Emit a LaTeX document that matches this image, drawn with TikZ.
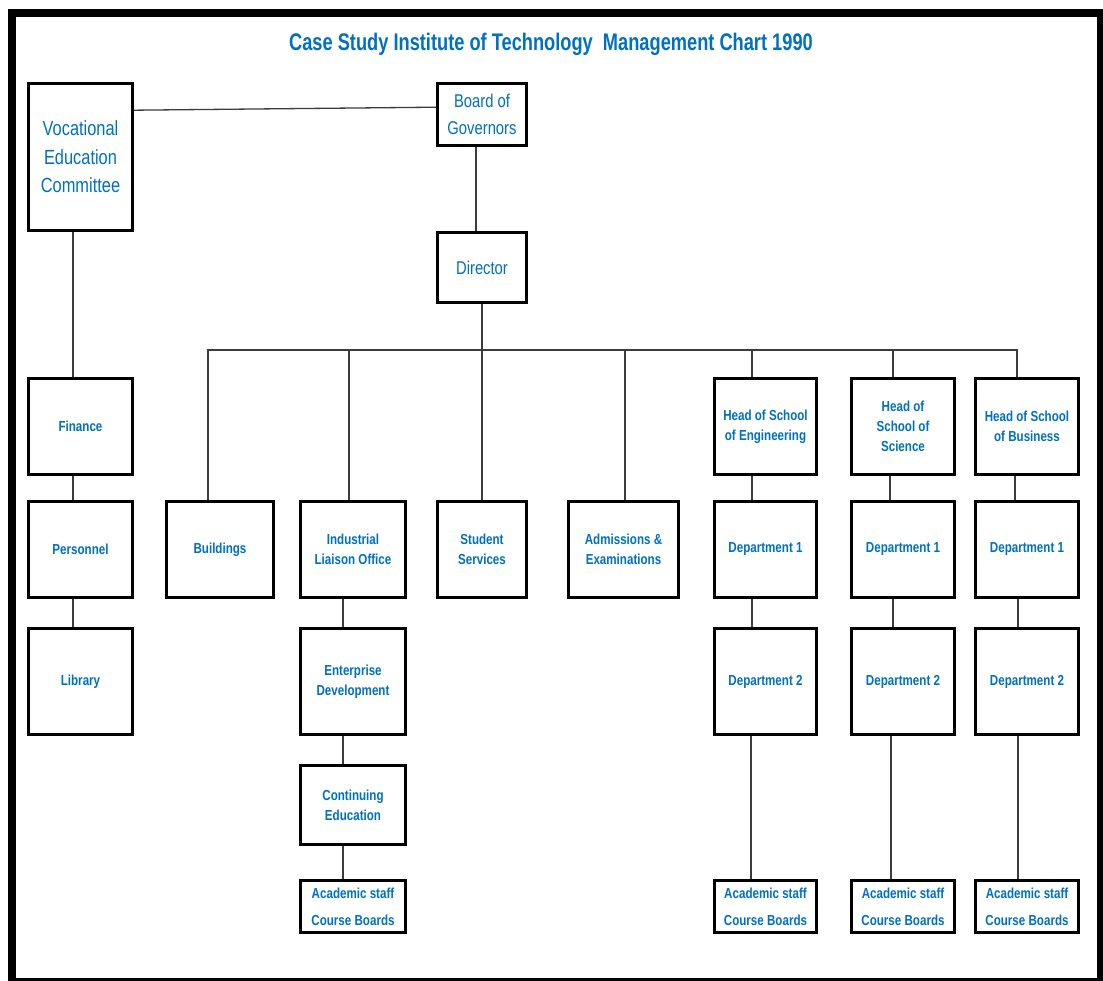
\documentclass[tikz,border=0pt]{standalone}
\usepackage{fontspec}
\newfontfamily\nsans[FakeStretch=0.8]{Liberation Sans}
\newfontfamily\tsans[FakeStretch=0.76]{Liberation Sans}
\definecolor{tblue}{RGB}{0,112,192}
\definecolor{lgray}{RGB}{60,60,60}
\tikzset{
  box/.style={draw=black, line width=2.6pt, fill=white, inner sep=0pt, align=center, text=tblue,
    font=\nsans\bfseries\fontsize{14.5}{20}\selectfont},
  bigbox/.style={box, font=\nsans\fontsize{18.5}{27}\selectfont},
  acbox/.style={box, font=\nsans\bfseries\fontsize{14.5}{27}\selectfont},
  conn/.style={draw=lgray, line width=1.3pt},
}
\begin{document}
\begin{tikzpicture}[x=1pt,y=-1pt]
\useasboundingbox (0,0) rectangle (1103,981);
\fill[white] (0,0) rectangle (1103,981);
\draw[line width=8pt] (12,13) rectangle (1101,982);
\node[text=tblue, font=\tsans\bfseries\fontsize{24}{28}\selectfont] (title) at (551,44) {Case Study Institute of Technology\ \ Management Chart 1990};
% top level
\node[bigbox, font=\nsans\fontsize{20.5}{28.5}\selectfont, minimum width=104pt, minimum height=147pt] (vec) at (80.5,157) {Vocational\\Education\\Committee};
\node[bigbox, minimum width=89pt, minimum height=62pt] (bog) at (482,114.5) {Board of\\Governors};
\node[bigbox, minimum width=89pt, minimum height=70pt] (dir) at (482,267.5) {Director};
% left column
\node[box, minimum width=104pt, minimum height=96pt] (fin) at (80.5,426.5) {Finance};
\node[box, minimum width=104pt, minimum height=96pt] (per) at (80.5,549.5) {Personnel};
\node[box, minimum width=104pt, minimum height=106pt] (lib) at (80.5,681.5) {Library};
% row 2 middle
\node[box, minimum width=107pt, minimum height=96pt] (bld) at (220,549.5) {Buildings};
\node[box, minimum width=105pt, minimum height=96pt] (ilo) at (353,549.5) {Industrial\\Liaison Office};
\node[box, minimum width=89pt, minimum height=96pt] (stu) at (482,549.5) {Student\\Services};
\node[box, minimum width=110pt, minimum height=96pt] (adm) at (623.5,549.5) {Admissions \&\\Examinations};
% ILO chain
\node[box, minimum width=105pt, minimum height=106pt] (ent) at (353,681.5) {Enterprise\\Development};
\node[box, minimum width=105pt, minimum height=79pt] (ced) at (353,805) {Continuing\\Education};
\node[acbox, minimum width=105pt, minimum height=52pt] (acI) at (353,906.5) {Academic staff\\Course Boards};
% schools
\node[box, minimum width=102pt, minimum height=96pt] (hEng) at (765.5,426.5) {Head of School\\of Engineering};
\node[box, minimum width=103pt, minimum height=96pt] (hSci) at (903,426.5) {Head of\\School of\\Science};
\node[box, minimum width=103pt, minimum height=96pt] (hBus) at (1027,426.5) {Head of School\\of Business};
\node[box, minimum width=102pt, minimum height=96pt] (d1Eng) at (765.5,549.5) {Department 1};
\node[box, minimum width=103pt, minimum height=96pt] (d1Sci) at (903,549.5) {Department 1};
\node[box, minimum width=103pt, minimum height=96pt] (d1Bus) at (1027,549.5) {Department 1};
\node[box, minimum width=102pt, minimum height=106pt] (d2Eng) at (765.5,681.5) {Department 2};
\node[box, minimum width=103pt, minimum height=106pt] (d2Sci) at (903,681.5) {Department 2};
\node[box, minimum width=103pt, minimum height=106pt] (d2Bus) at (1027,681.5) {Department 2};
\node[acbox, minimum width=102pt, minimum height=52pt] (acEng) at (765.5,906.5) {Academic staff\\Course Boards};
\node[acbox, minimum width=103pt, minimum height=52pt] (acSci) at (903,906.5) {Academic staff\\Course Boards};
\node[acbox, minimum width=103pt, minimum height=52pt] (acBus) at (1027,906.5) {Academic staff\\Course Boards};
% connectors
\coordinate (bL) at (208,350);
\coordinate (bR) at (1017,350);
\draw[conn] ([yshift=-28pt]vec.north east) -- ([yshift=-25pt]bog.north west);
\draw[conn] ([xshift=-6pt]bog.south) -- ([xshift=-6pt]dir.north);
\draw[conn] ([xshift=-7.5pt]vec.south) -- ([xshift=-7.5pt]fin.north);
\draw[conn] ([xshift=-7.5pt]fin.south) -- ([xshift=-7.5pt]per.north);
\draw[conn] ([xshift=-7.5pt]per.south) -- ([xshift=-7.5pt]lib.north);
\draw[conn] (dir.south) -- (dir.south |- bL);
\draw[conn] (bld.north -| bL) -- (bL) -- (bR) -- (hBus.north -| bR);
\draw[conn] ([xshift=-4pt]ilo.north) -- ([xshift=-4pt]ilo.north |- bL);
\draw[conn] (stu.north) -- (stu.north |- bL);
\draw[conn] ([xshift=1.5pt]adm.north) -- ([xshift=1.5pt]adm.north |- bL);
\draw[conn] ([xshift=-13.5pt]hEng.north) -- ([xshift=-13.5pt]hEng.north |- bL);
\draw[conn] ([xshift=-10pt]hSci.north) -- ([xshift=-10pt]hSci.north |- bL);
\draw[conn] ([xshift=-10pt]ilo.south) -- ([xshift=-10pt]ent.north);
\draw[conn] ([xshift=-10pt]ent.south) -- ([xshift=-10pt]ced.north);
\draw[conn] ([xshift=-10pt]ced.south) -- ([xshift=-10pt]acI.north);
\draw[conn] ([xshift=-13.5pt]hEng.south) -- ([xshift=-13.5pt]d1Eng.north);
\draw[conn] ([xshift=-13.5pt]d1Eng.south) -- ([xshift=-13.5pt]d2Eng.north);
\draw[conn] ([xshift=-14.5pt]d2Eng.south) -- ([xshift=-14.5pt]acEng.north);
\draw[conn] ([xshift=-13pt]hSci.south) -- ([xshift=-13pt]d1Sci.north);
\draw[conn] ([xshift=-10pt]d1Sci.south) -- ([xshift=-10pt]d2Sci.north);
\draw[conn] ([xshift=-12pt]d2Sci.south) -- ([xshift=-12pt]acSci.north);
\draw[conn] ([xshift=-12pt]hBus.south) -- ([xshift=-12pt]d1Bus.north);
\draw[conn] ([xshift=-9pt]d1Bus.south) -- ([xshift=-9pt]d2Bus.north);
\draw[conn] ([xshift=-9pt]d2Bus.south) -- ([xshift=-9pt]acBus.north);
\end{tikzpicture}
\end{document}
